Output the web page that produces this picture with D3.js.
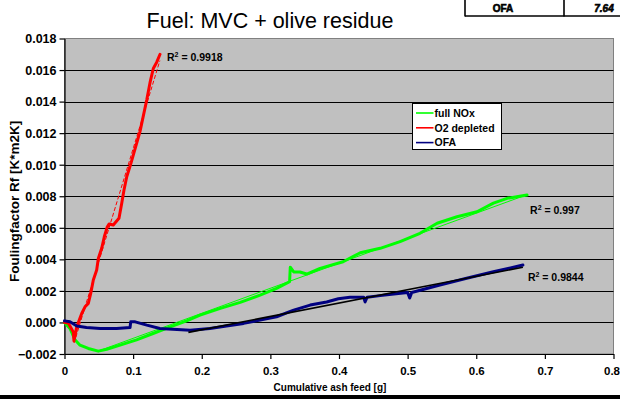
<!DOCTYPE html>
<html><head><meta charset="utf-8">
<script src="https://cdn.jsdelivr.net/npm/d3@7"></script>
<style>
body{margin:0;background:#fff}
svg{display:block}
text{font-family:Arial,"Liberation Sans",sans-serif}
</style>
</head><body>
<svg id="chart" width="620" height="399"></svg>
<script>
// Axis ticks
const xTicks = [0, 0.1, 0.2, 0.3, 0.4, 0.5, 0.6, 0.7, 0.8];
const yTicks = [-0.002, 0, 0.002, 0.004, 0.006, 0.008, 0.010, 0.012, 0.014, 0.016, 0.018];

// Series: [cumulative ash feed g, fouling factor]
const seriesNames = ["full NOx", "O2 depleted", "OFA"];
const fullNOx = [
  [0,0],[0.008,-0.00038],[0.0153,-0.0011],[0.0226,-0.00144],[0.0347,-0.00165],[0.0493,-0.00182],
  [0.0615,-0.0017],[0.081,-0.00144],[0.105,-0.0011],[0.129,-0.0007],[0.154,-0.00028],[0.178,0.0001],
  [0.1975,0.00046],[0.227,0.00089],[0.256,0.00127],[0.285,0.00173],[0.309,0.00216],[0.328,0.00258],
  [0.329,0.0035],[0.334,0.0032],[0.343,0.0032],[0.353,0.00307],[0.3724,0.00343],[0.406,0.00385],
  [0.431,0.00442],[0.46,0.0047],[0.489,0.00512],[0.518,0.00565],[0.543,0.00629],[0.572,0.0067],
  [0.601,0.00702],[0.625,0.00756],[0.645,0.00787],[0.659,0.00797],[0.674,0.00808]
];
const o2Depleted = [
  [0,0],[0.0055,-0.00004],[0.0128,-0.0006],[0.0138,-0.00117],[0.0178,-0.00028],[0.0251,0.00057],
  [0.0299,0.00099],[0.0347,0.00121],[0.0382,0.00184],[0.042,0.00269],[0.0469,0.00332],[0.0493,0.00406],
  [0.0542,0.0047],[0.058,0.00543],[0.0624,0.00607],[0.0649,0.00624],[0.0711,0.00618],[0.0794,0.0066],
  [0.0834,0.00756],[0.0867,0.0084],[0.0907,0.00924],[0.0969,0.0101],[0.110,0.0121],[0.1198,0.0141],
  [0.1246,0.0152],[0.1294,0.0161],[0.1344,0.0165],[0.1392,0.0170]
];
const ofa = [
  [0,0.0001],[0.008,0.00004],[0.018,-0.00023],[0.032,-0.00032],[0.052,-0.00038],[0.076,-0.00038],
  [0.0955,-0.00032],[0.0965,0.00004],[0.103,0.00004],[0.12,-0.00017],[0.139,-0.00038],[0.164,-0.00044],
  [0.183,-0.00049],[0.212,-0.00038],[0.236,-0.00023],[0.261,-0.00006],[0.285,0.00015],[0.309,0.00036],
  [0.334,0.00078],[0.358,0.0011],[0.382,0.0013],[0.399,0.0015],[0.416,0.0016],[0.436,0.0016],
  [0.438,0.0013],[0.441,0.0016],[0.46,0.0017],[0.48,0.0018],[0.5,0.0019],[0.503,0.00155],[0.506,0.0019],
  [0.547,0.00237],[0.586,0.0028],[0.625,0.00321],[0.668,0.00364]
];

// Linear trend lines and their R² values
const trendFullNOx = [[0.05,-0.0018],[0.674,0.0081]];
const trendO2 = [[0.014,-0.0013],[0.139,0.0166]];
const trendOFA = [[0.1805,-0.00063],[0.668,0.0035]];
const rSquared = ["0.997", "0.9918", "0.9844"];

// Table fragment in the corner
const tableCells = ["OFA", "7.64"];

const svg = d3.select("#chart");
const L = 64.5, R = 613.5, T = 38.5, B = 354;
const x = d3.scaleLinear().domain([0, 0.8]).range([L, R]);
const y = d3.scaleLinear().domain([-0.002, 0.018]).range([B, T]);

// Plot area
svg.append("rect").attr("x", L).attr("y", T).attr("width", R - L).attr("height", B - T)
  .attr("fill", "#c0c0c0").attr("stroke", "#808080").attr("stroke-width", 1);

// Grid lines
svg.append("g").selectAll("line").data(yTicks.filter(d => d > -0.002 && d < 0.018)).join("line")
  .attr("x1", L).attr("x2", R).attr("y1", d => Math.round(y(d)) + 0.5).attr("y2", d => Math.round(y(d)) + 0.5)
  .attr("stroke", "#000").attr("stroke-width", 1);

// Axes
const yAxis = svg.append("g").attr("transform", `translate(${L},0)`)
  .call(d3.axisLeft(y).tickValues(yTicks).tickFormat(d3.format(".3f")).tickSize(5).tickSizeOuter(0));
const xAxis = svg.append("g").attr("transform", `translate(0,${B})`)
  .call(d3.axisBottom(x).tickValues(xTicks).tickFormat(d => d === 0 ? "0" : d3.format(".1f")(d)).tickSize(5).tickSizeOuter(0));
[yAxis, xAxis].forEach(a => {
  a.select(".domain").attr("stroke", "#000").attr("stroke-width", 1.2);
  a.selectAll(".tick line").attr("stroke", "#000").attr("stroke-width", 1.2);
  a.selectAll(".tick text").attr("fill", "#000");
});
yAxis.selectAll(".tick text").style("font", "bold 12.5px Arial, 'Liberation Sans', sans-serif")
  .attr("x", -8).attr("dy", "0.35em");
xAxis.selectAll(".tick text").style("font", "bold 11.5px Arial, 'Liberation Sans', sans-serif")
  .attr("y", 13).attr("dx", d => d === 0.8 ? -2 : 0);

// Trend lines
const line = d3.line().x(d => x(d[0])).y(d => y(d[1]));
svg.append("path").datum(trendFullNOx).attr("d", line).attr("fill", "none")
  .attr("stroke", "#00ff00").attr("stroke-width", 1);
svg.append("path").datum(trendO2).attr("d", line).attr("fill", "none")
  .attr("stroke", "#ff0000").attr("stroke-width", 1).attr("stroke-dasharray", "4,2");

// Data series
const colors = ["#00ff00", "#ff0000", "#000080"];
[fullNOx, o2Depleted, ofa].forEach((s, i) => {
  svg.append("path").datum(s).attr("d", line).attr("fill", "none")
    .attr("stroke", colors[i]).attr("stroke-width", 3)
    .attr("stroke-linejoin", "round").attr("stroke-linecap", "round");
});
svg.append("path").datum(trendOFA).attr("d", line).attr("fill", "none")
  .attr("stroke", "#000").attr("stroke-width", 1.6);

// R² labels next to series ends
const fontLbl = "bold 10.5px Arial, 'Liberation Sans', sans-serif";
const r2 = [
  {end: fullNOx[fullNOx.length - 1], dx: 3, dy: 19, v: rSquared[0]},
  {end: o2Depleted[o2Depleted.length - 1], dx: 7, dy: 7, v: rSquared[1]},
  {end: ofa[ofa.length - 1], dx: 5, dy: 16, v: rSquared[2]}
];
r2.forEach(r => {
  const t = svg.append("text").attr("x", x(r.end[0]) + r.dx).attr("y", y(r.end[1]) + r.dy)
    .style("font", fontLbl).attr("fill", "#000");
  t.append("tspan").text("R");
  t.append("tspan").attr("dy", -4).style("font-size", "7px").text("2");
  t.append("tspan").attr("dy", 4).text(" = " + r.v);
});

// Legend
const lg = svg.append("g").attr("transform", "translate(412.5,103.5)");
lg.append("rect").attr("width", 89).attr("height", 46).attr("fill", "#fff").attr("stroke", "#000").attr("stroke-width", 1);
seriesNames.forEach((n, i) => {
  const yy = 9.5 + i * 14.8;
  lg.append("line").attr("x1", 3.5).attr("x2", 21).attr("y1", yy).attr("y2", yy)
    .attr("stroke", colors[i]).attr("stroke-width", 1.6);
  lg.append("text").attr("x", 22).attr("y", yy + 3.8).style("font", fontLbl).attr("fill", "#000").text(n);
});

// Titles
svg.append("text").attr("x", 270).attr("y", 28).attr("text-anchor", "middle")
  .style("font", "21.5px Arial, 'Liberation Sans', sans-serif").attr("fill", "#000").text("Fuel: MVC + olive residue");
svg.append("text").attr("x", 330).attr("y", 391).attr("text-anchor", "middle")
  .style("font", "bold 10px Arial, 'Liberation Sans', sans-serif").attr("fill", "#000").text("Cumulative ash feed [g]");
svg.append("text").attr("transform", `translate(19,${(T + B) / 2 + 5}) rotate(-90)`).attr("text-anchor", "middle")
  .style("font", "bold 13.5px Arial, 'Liberation Sans', sans-serif").attr("fill", "#000").text("Foulingfactor Rf [K*m2K]");

// Corner table fragment
const tb = svg.append("g");
tb.append("line").attr("x1", 465).attr("x2", 465).attr("y1", 0).attr("y2", 16.5).attr("stroke", "#000").attr("stroke-width", 1.6);
tb.append("line").attr("x1", 564).attr("x2", 564).attr("y1", 0).attr("y2", 16.5).attr("stroke", "#000").attr("stroke-width", 1.6);
tb.append("line").attr("x1", 465).attr("x2", 620).attr("y1", 16).attr("y2", 16).attr("stroke", "#000").attr("stroke-width", 1.6);
tb.append("text").attr("x", 503).attr("y", 12).attr("text-anchor", "middle")
  .style("font", "900 10px Arial, 'Liberation Sans', sans-serif").attr("stroke", "#000").attr("stroke-width", 0.6).text(tableCells[0]);
tb.append("text").attr("x", 604).attr("y", 12).attr("text-anchor", "middle")
  .style("font", "italic 900 10px Arial, 'Liberation Sans', sans-serif").attr("stroke", "#000").attr("stroke-width", 0.6).text(tableCells[1]);

// Bottom frame edge
svg.append("rect").attr("x", 0).attr("y", 395).attr("width", 620).attr("height", 4).attr("fill", "#000");
</script>
</body></html>
